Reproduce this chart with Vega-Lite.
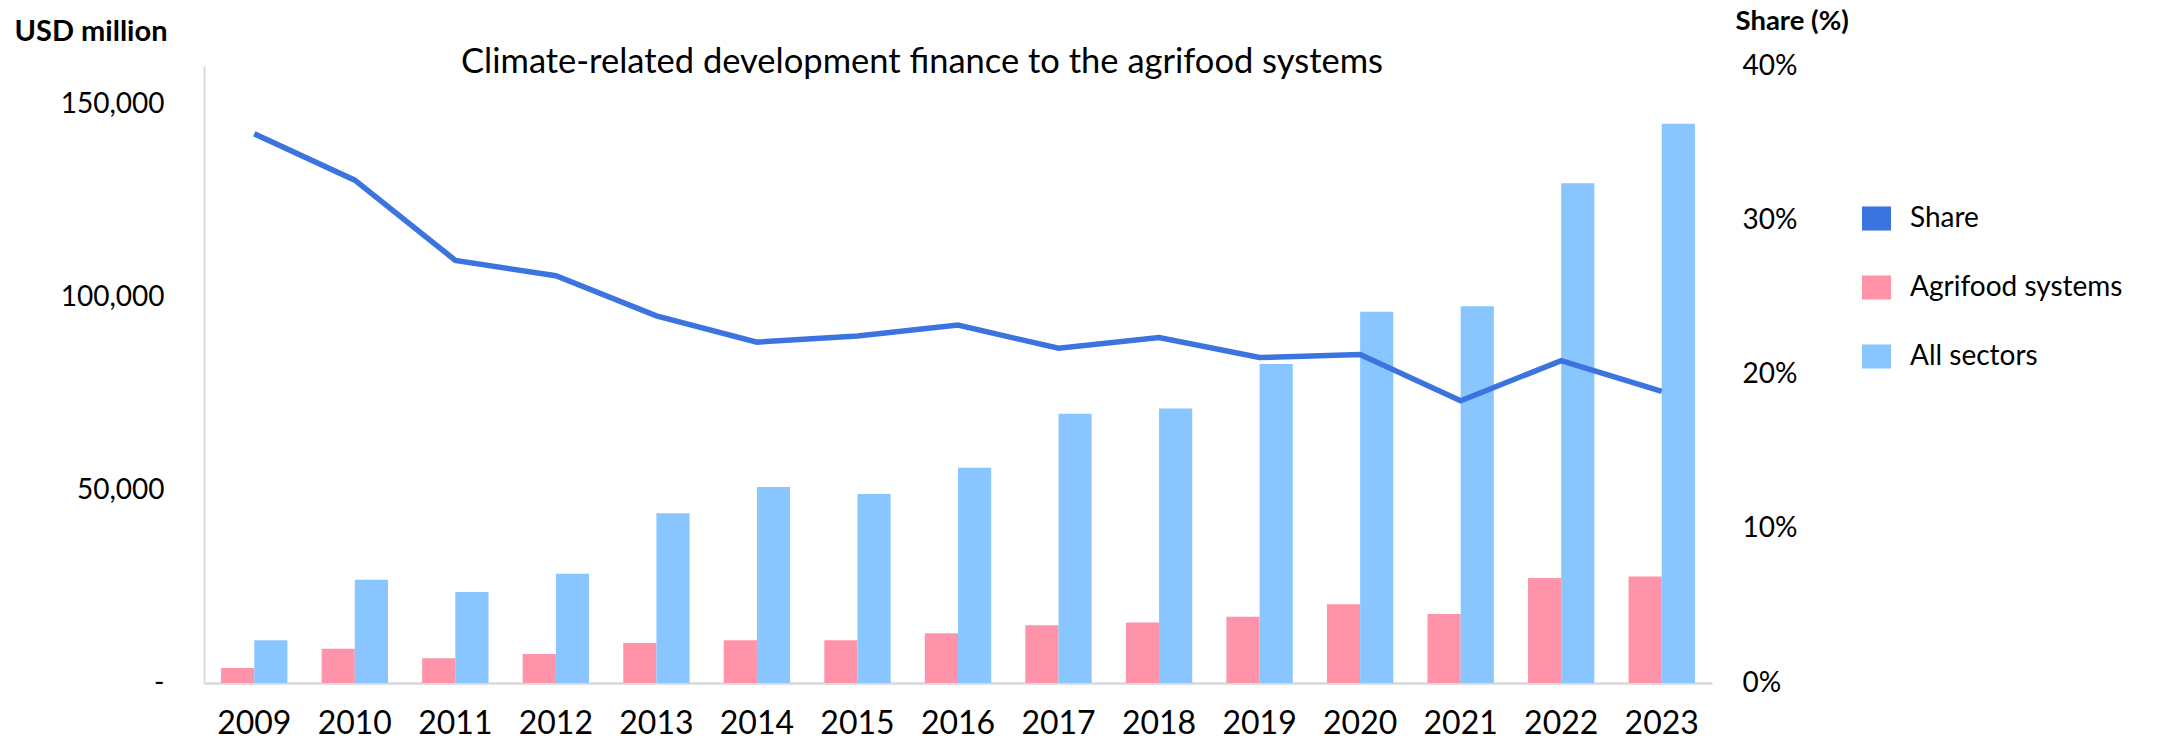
{
  "$schema": "https://vega.github.io/schema/vega-lite/v6.json",
  "width": 1508,
  "height": 617,
  "autosize": {"type": "none"},
  "padding": {"left": 204, "top": 66, "right": 450, "bottom": 69},
  "background": "white",
  "title": {
    "text": "Climate-related development finance to the agrifood systems",
    "font": "Lato", "fontSize": 34.5, "fontWeight": "normal", "color": "#000000",
    "anchor": "middle", "frame": "group", "offset": 0, "baseline": "alphabetic",
    "dx": -36, "dy": 100
  },
  "data": {
    "values": [
      {"year": "2009", "Agrifood systems": 3900, "All sectors": 11100, "share": 0.356},
      {"year": "2010", "Agrifood systems": 8900, "All sectors": 26800, "share": 0.326},
      {"year": "2011", "Agrifood systems": 6400, "All sectors": 23600, "share": 0.274},
      {"year": "2012", "Agrifood systems": 7500, "All sectors": 28300, "share": 0.264},
      {"year": "2013", "Agrifood systems": 10400, "All sectors": 44000, "share": 0.238},
      {"year": "2014", "Agrifood systems": 11100, "All sectors": 50800, "share": 0.221},
      {"year": "2015", "Agrifood systems": 11100, "All sectors": 49000, "share": 0.225},
      {"year": "2016", "Agrifood systems": 12900, "All sectors": 55800, "share": 0.232},
      {"year": "2017", "Agrifood systems": 15000, "All sectors": 69800, "share": 0.217},
      {"year": "2018", "Agrifood systems": 15700, "All sectors": 71200, "share": 0.224},
      {"year": "2019", "Agrifood systems": 17200, "All sectors": 82700, "share": 0.211},
      {"year": "2020", "Agrifood systems": 20400, "All sectors": 96300, "share": 0.213},
      {"year": "2021", "Agrifood systems": 17900, "All sectors": 97700, "share": 0.183},
      {"year": "2022", "Agrifood systems": 27200, "All sectors": 129600, "share": 0.209},
      {"year": "2023", "Agrifood systems": 27600, "All sectors": 145000, "share": 0.189}
    ]
  },
  "layer": [
    {
      "transform": [{"fold": ["Agrifood systems", "All sectors"], "as": ["series", "usd"]}],
      "mark": {"type": "bar"},
      "encoding": {
        "x": {
          "field": "year", "type": "ordinal",
          "scale": {"paddingInner": 0.34, "paddingOuter": 0.17},
          "axis": {
            "title": null, "labelAngle": 0, "ticks": false, "grid": false,
            "domainColor": "#D9D9D9", "domainWidth": 2.5,
            "labelFont": "Lato", "labelFontSize": 32, "labelColor": "#000000", "labelPadding": 25
          }
        },
        "xOffset": {"field": "series", "type": "nominal", "sort": ["Agrifood systems", "All sectors"], "scale": {"paddingInner": 0, "paddingOuter": 0}},
        "y": {
          "field": "usd", "type": "quantitative",
          "scale": {"domain": [0, 160000], "nice": false},
          "axis": {
            "title": "USD million", "titleAngle": 0, "titleAlign": "left", "titleBaseline": "middle",
            "titleX": -190, "titleY": -35, "titleFont": "Lato", "titleFontSize": 29, "titleFontWeight": "bold", "titleColor": "#000000",
            "values": [0, 50000, 100000, 150000],
            "labelExpr": "datum.value == 0 ? '-' : format(datum.value, ',')",
            "labelFont": "Lato", "labelFontSize": 28, "labelColor": "#000000", "labelPadding": 40,
            "ticks": false, "grid": false, "domainColor": "#D9D9D9", "domainWidth": 2
          }
        },
        "color": {
          "field": "series", "type": "nominal",
          "scale": {"domain": ["Share", "Agrifood systems", "All sectors"], "range": ["#3B74DF", "#FF93A9", "#89C6FF"]},
          "legend": {
            "title": null, "orient": "none", "legendX": 1658, "legendY": 138, "padding": 0,
            "symbolType": "M-1,-0.83H1V0.83H-1Z", "symbolSize": 841, "symbolStrokeWidth": 0,
            "labelFont": "Lato", "labelFontSize": 28, "labelColor": "#000000", "labelLimit": 0, "rowPadding": 40, "labelOffset": 19,
            "encode": {"symbols": {"update": {"fill": {"scale": "color", "field": "value"}, "strokeWidth": {"value": 0}, "opacity": {"value": 1}}}}
          }
        }
      }
    },
    {
      "mark": {"type": "line", "strokeWidth": 5.5},
      "encoding": {
        "x": {"field": "year", "type": "ordinal"},
        "y": {
          "field": "share", "type": "quantitative",
          "scale": {"domain": [0, 0.4], "nice": false},
          "axis": {
            "orient": "right", "title": "Share (%)", "titleAngle": 0, "titleAlign": "left", "titleBaseline": "middle",
            "titleX": 23, "titleY": -45, "titleFont": "Lato", "titleFontSize": 27.5, "titleFontWeight": "bold", "titleColor": "#000000",
            "values": [0, 0.1, 0.2, 0.3, 0.4], "format": ".0%",
            "labelFont": "Lato", "labelFontSize": 28, "labelColor": "#000000", "labelPadding": 30,
            "ticks": false, "grid": false, "domain": false
          }
        },
        "color": {"datum": "Share"}
      }
    }
  ],
  "resolve": {"scale": {"y": "independent"}},
  "config": {"view": {"stroke": null}, "axis": {"grid": false}}
}
